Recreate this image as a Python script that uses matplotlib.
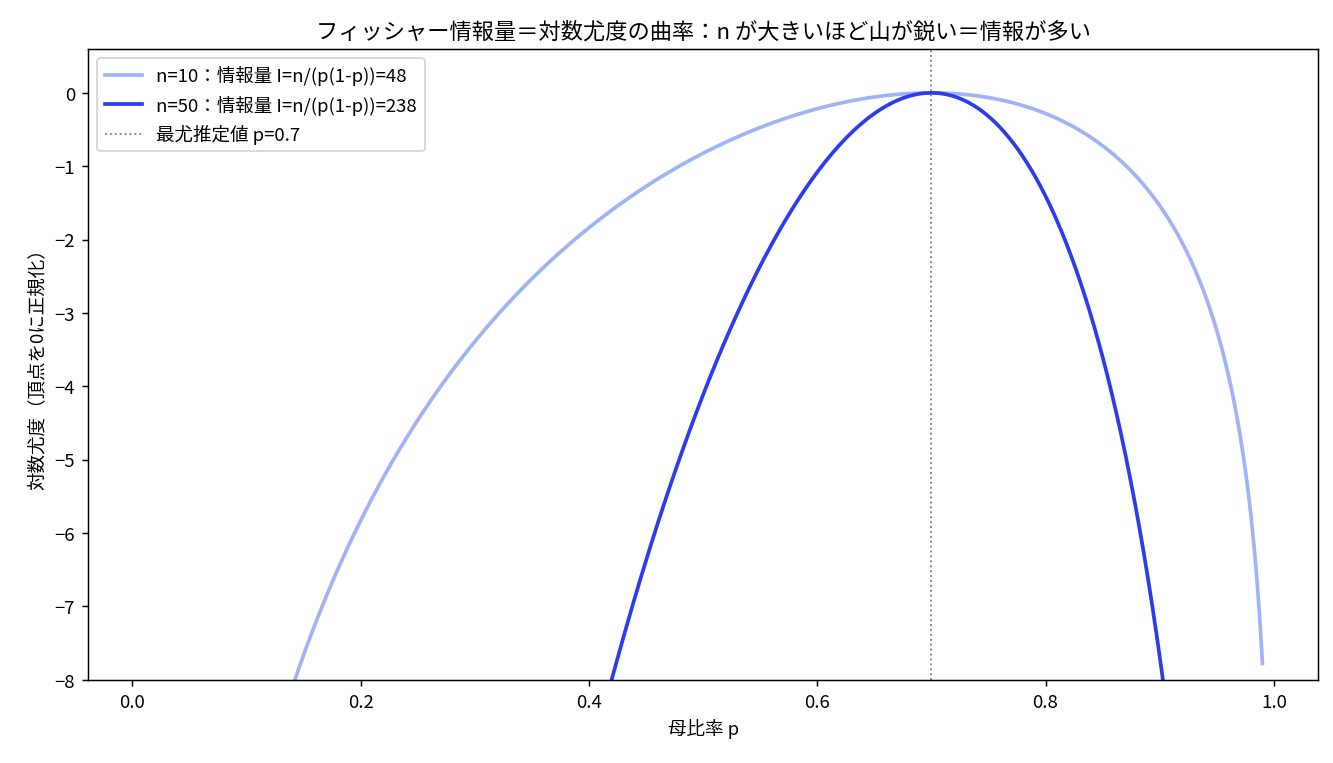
import numpy as np
import matplotlib.pyplot as plt

plt.rcParams['font.family'] = ['Noto Sans CJK JP', 'DejaVu Sans']

# values
p_hat = 0.7
sample_sizes = [10, 50]
line_colors = ['#a0b4f5', '#2b3cf0']
p_min, p_max = 0.01, 0.99

p = np.linspace(p_min, p_max, 500)

fig, ax = plt.subplots(figsize=(10, 5.73), dpi=133.3)
for n, c in zip(sample_sizes, line_colors):
    ll = n * (p_hat * np.log(p) + (1 - p_hat) * np.log(1 - p))
    ll_max = n * (p_hat * np.log(p_hat) + (1 - p_hat) * np.log(1 - p_hat))
    info = n / (p_hat * (1 - p_hat))
    ax.plot(p, ll - ll_max, color=c, lw=2,
            label=f'n={n}：情報量 I=n/(p(1-p))={info:.0f}')
ax.axvline(p_hat, color='gray', ls=':', lw=1, label=f'最尤推定値 p={p_hat}')
ax.set_ylim(-8, 0.6)
ax.set_title('フィッシャー情報量＝対数尤度の曲率：n が大きいほど山が鋭い＝情報が多い')
ax.set_xlabel('母比率 p')
ax.set_ylabel('対数尤度（頂点を0に正規化）')
ax.legend(loc='upper left')
fig.subplots_adjust(left=0.066, right=0.989, top=0.935, bottom=0.109)
fig.savefig('out.png')
plt.close(fig)
